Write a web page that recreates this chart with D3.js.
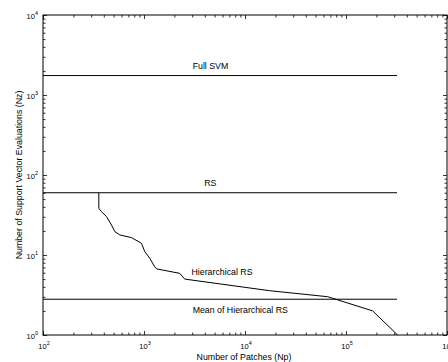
<!DOCTYPE html>
<html>
<head>
<meta charset="utf-8">
<script src="https://cdn.jsdelivr.net/npm/d3@7"></script>
<style>
  body { margin: 0; background: #fff; }
  text { font-family: "Liberation Sans", Arial, sans-serif; fill: #000; }
</style>
</head>
<body>
<script>
// tick values (decades)
const xTicks = [1e2, 1e3, 1e4, 1e5, 1e6];
const yTicks = [1e0, 1e1, 1e2, 1e3, 1e4];

// constant reference levels
const refNames = ["Full SVM", "RS", "Mean of Hierarchical RS"];
const refValues = [1750, 60, 2.8];
const refEndNp = 3.2e5;

// Hierarchical RS curve
const hierNp = [357, 357, 380, 426, 477, 514, 577, 752, 944, 1019, 1141, 1279, 1337, 2259, 2531, 17500, 65900, 183600, 324000];
const hierNz = [60, 38.3, 34.8, 30.1, 23.7, 19.6, 17.8, 16.5, 14.0, 11.0, 9.1, 7.1, 6.7, 5.9, 5.0, 3.58, 3.01, 2.0, 1.0];
const hierName = "Hierarchical RS";

const width = 448;
const height = 362;
const marginLeft = 43, marginRight = 447, marginTop = 15, marginBottom = 335;

const svg = d3.select("body").append("svg")
  .attr("width", width)
  .attr("height", height);

svg.append("rect").attr("width", width).attr("height", height).attr("fill", "white");

const x = d3.scaleLog().domain([1e2, 1e6]).range([marginLeft, marginRight]);
const y = d3.scaleLog().domain([1e0, 1e4]).range([marginBottom, marginTop]);

// minor ticks for each decade
function minors(ticks) {
  const out = [];
  for (let i = 0; i < ticks.length - 1; i++)
    for (let k = 2; k <= 9; k++) out.push(ticks[i] * k);
  return out;
}
const xMinor = minors(xTicks);
const yMinor = minors(yTicks);

function drawAxis(axis, tx, ty) {
  const g = svg.append("g").attr("transform", `translate(${tx},${ty})`).call(axis);
  g.select(".domain").remove();
  g.selectAll(".tick line").attr("stroke", "#000").attr("stroke-width", 0.8);
  return g;
}

// ticks pointing inward on all four sides
drawAxis(d3.axisBottom(x).tickValues(xTicks).tickSize(-4).tickFormat(""), 0, marginBottom);
drawAxis(d3.axisBottom(x).tickValues(xMinor).tickSize(-2.5).tickFormat(""), 0, marginBottom);
drawAxis(d3.axisTop(x).tickValues(xTicks).tickSize(-4).tickFormat(""), 0, marginTop);
drawAxis(d3.axisTop(x).tickValues(xMinor).tickSize(-2.5).tickFormat(""), 0, marginTop);
drawAxis(d3.axisLeft(y).tickValues(yTicks).tickSize(-4).tickFormat(""), marginLeft, 0);
drawAxis(d3.axisLeft(y).tickValues(yMinor).tickSize(-2.5).tickFormat(""), marginLeft, 0);
drawAxis(d3.axisRight(y).tickValues(yTicks).tickSize(-4).tickFormat(""), marginRight, 0);
drawAxis(d3.axisRight(y).tickValues(yMinor).tickSize(-2.5).tickFormat(""), marginRight, 0);

// box
svg.append("rect")
  .attr("x", marginLeft).attr("y", marginTop)
  .attr("width", marginRight - marginLeft).attr("height", marginBottom - marginTop)
  .attr("fill", "none").attr("stroke", "#000").attr("stroke-width", 1);

// tick labels: 10 with superscript exponent
function powLabel(sel, v) {
  sel.append("tspan").text("10");
  sel.append("tspan").attr("dy", -4).attr("font-size", 5.5).text(Math.round(Math.log10(v)));
}
svg.append("g").selectAll("text").data(xTicks).join("text")
  .attr("x", d => x(d) + 1)
  .attr("y", marginBottom + 14)
  .attr("text-anchor", "middle")
  .attr("font-size", 7.5)
  .each(function (d) { powLabel(d3.select(this), d); });

svg.append("g").selectAll("text").data(yTicks).join("text")
  .attr("x", marginLeft - 5)
  .attr("y", d => y(d) + 4)
  .attr("text-anchor", "end")
  .attr("font-size", 7.5)
  .each(function (d) { powLabel(d3.select(this), d); });

// axis titles
svg.append("text")
  .attr("x", 244).attr("y", 360)
  .attr("text-anchor", "middle")
  .attr("font-size", 8.8)
  .text("Number of Patches (Np)");

svg.append("text")
  .attr("transform", `translate(21.5,${(marginTop + marginBottom) / 2}) rotate(-90)`)
  .attr("text-anchor", "middle")
  .attr("font-size", 8.8)
  .text("Number of Support Vector Evaluations (Nz)");

// reference lines
const line = d3.line().x(d => x(d[0])).y(d => y(d[1]));
refValues.forEach(v => {
  svg.append("path")
    .attr("d", line([[1e2, v], [refEndNp, v]]))
    .attr("fill", "none").attr("stroke", "#000").attr("stroke-width", 1);
});

// hierarchical RS curve
svg.append("path")
  .attr("d", line(hierNp.map((d, i) => [d, hierNz[i]])))
  .attr("fill", "none").attr("stroke", "#000").attr("stroke-width", 1);

// line labels
const labelX = [3030, 3950, 3030];
const labelDy = [-7, -7, 13.5];
refNames.forEach((name, i) => {
  svg.append("text")
    .attr("x", x(labelX[i]))
    .attr("y", y(refValues[i]) + labelDy[i])
    .attr("font-size", 8.8)
    .text(name);
});
svg.append("text")
  .attr("x", x(2950))
  .attr("y", y(6.2) + 3)
  .attr("font-size", 8.8)
  .text(hierName);
</script>
</body>
</html>
